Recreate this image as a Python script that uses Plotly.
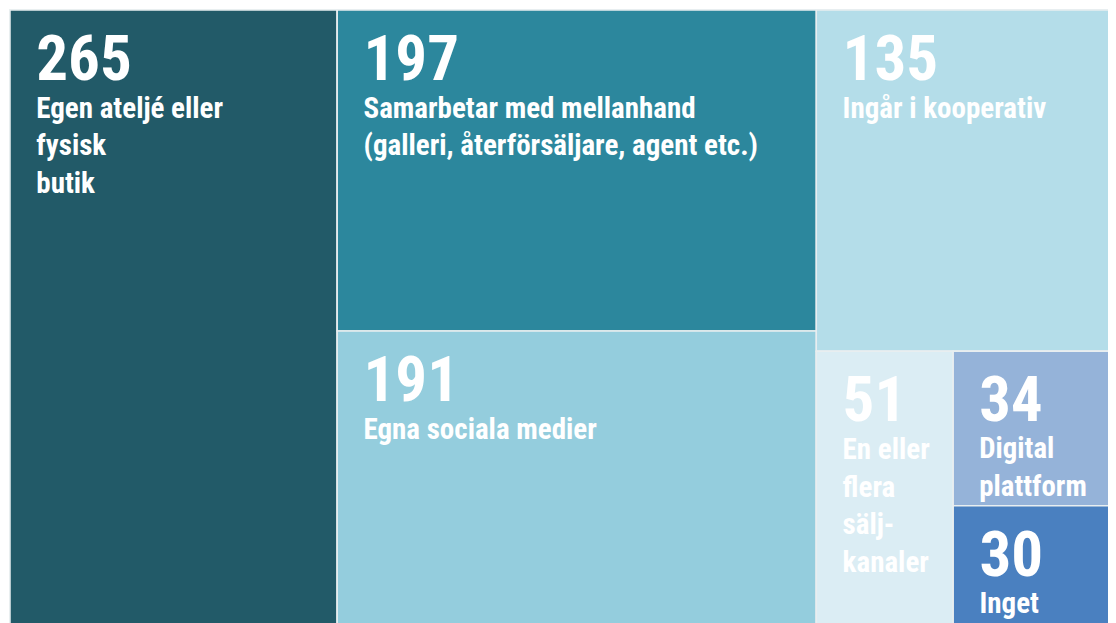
import plotly.graph_objects as go

# Data
values = [265, 197, 191, 135, 51, 34, 30]
labels = [
    "Egen ateljé eller<br>fysisk<br>butik",
    "Samarbetar med mellanhand<br>(galleri, återförsäljare, agent etc.)",
    "Egna sociala medier",
    "Ingår i kooperativ",
    "En eller<br>flera<br>sälj-<br>kanaler",
    "Digital<br>plattform",
    "Inget",
]
colors = ["#225a68", "#2c879d", "#94cddd", "#b4dde9", "#dbedf4", "#95b3d9", "#4a80c0"]

# Grouping used for the nested (slice-dice) layout
groups = {
    "root": ["leaf0", "g1", "g2"],
    "g1": ["leaf1", "leaf2"],
    "g2": ["leaf3", "g3"],
    "g3": ["leaf4", "g4"],
    "g4": ["leaf5", "leaf6"],
}

def group_value(g):
    tot = 0
    for k in groups[g]:
        if k.startswith("leaf"):
            tot += values[int(k[4:])]
        else:
            tot += group_value(k)
    return tot

NUM_SIZE = 63
BASE = 29
# text indentation / top offset made with non-breaking spaces
NUM_PREFIX = "<span style='font-size:72px'>\u00a0</span>\u00a0"
LAB_PREFIX = "\u00a0\u00a0\u00a0<span style='font-size:14px'>\u00a0</span>"

def leaf_text(i):
    lines = labels[i].split("<br>")
    body = "<br>".join(LAB_PREFIX + ln for ln in lines)
    return f"{NUM_PREFIX}<span style='font-size:{NUM_SIZE}px'>{values[i]}</span><br>{body}"

ids, parents, vals, cols, texts, labs = [], [], [], [], [], []

def add(node, parent):
    ids.append(node)
    parents.append(parent)
    if node.startswith("leaf"):
        i = int(node[4:])
        vals.append(values[i])
        cols.append(colors[i])
        labs.append(labels[i])
        texts.append(leaf_text(i))
    else:
        vals.append(group_value(node))
        cols.append("#ffffff")
        labs.append(node)
        texts.append("")
        for k in groups[node]:
            add(k, node)

add("root", "")

fig = go.Figure(
    go.Treemap(
        ids=ids,
        labels=labs,
        parents=parents,
        values=vals,
        branchvalues="total",
        sort=False,
        texttemplate=texts,
        textposition="top left",
        textfont=dict(
            family="Roboto Condensed, Liberation Sans Narrow, DejaVu Sans Condensed, sans-serif",
            size=BASE,
            color="white",
            weight="bold",
        ),
        marker=dict(
            colors=cols,
            line=dict(color="#e8eef0", width=1.5),
            pad=dict(t=0, l=0, r=0, b=0),
            depthfade=False,
        ),
        tiling=dict(packing="slice-dice", pad=0),
        pathbar=dict(visible=False),
        hoverinfo="skip",
    )
)

fig.update_layout(
    width=1117,
    height=634,
    margin=dict(l=2, r=0, t=2, b=0),
    paper_bgcolor="white",
    showlegend=False,
)

fig.write_html(
    "out.html",
    post_script="document.documentElement.style.overflow='hidden';document.body.style.overflow='hidden';",
)
